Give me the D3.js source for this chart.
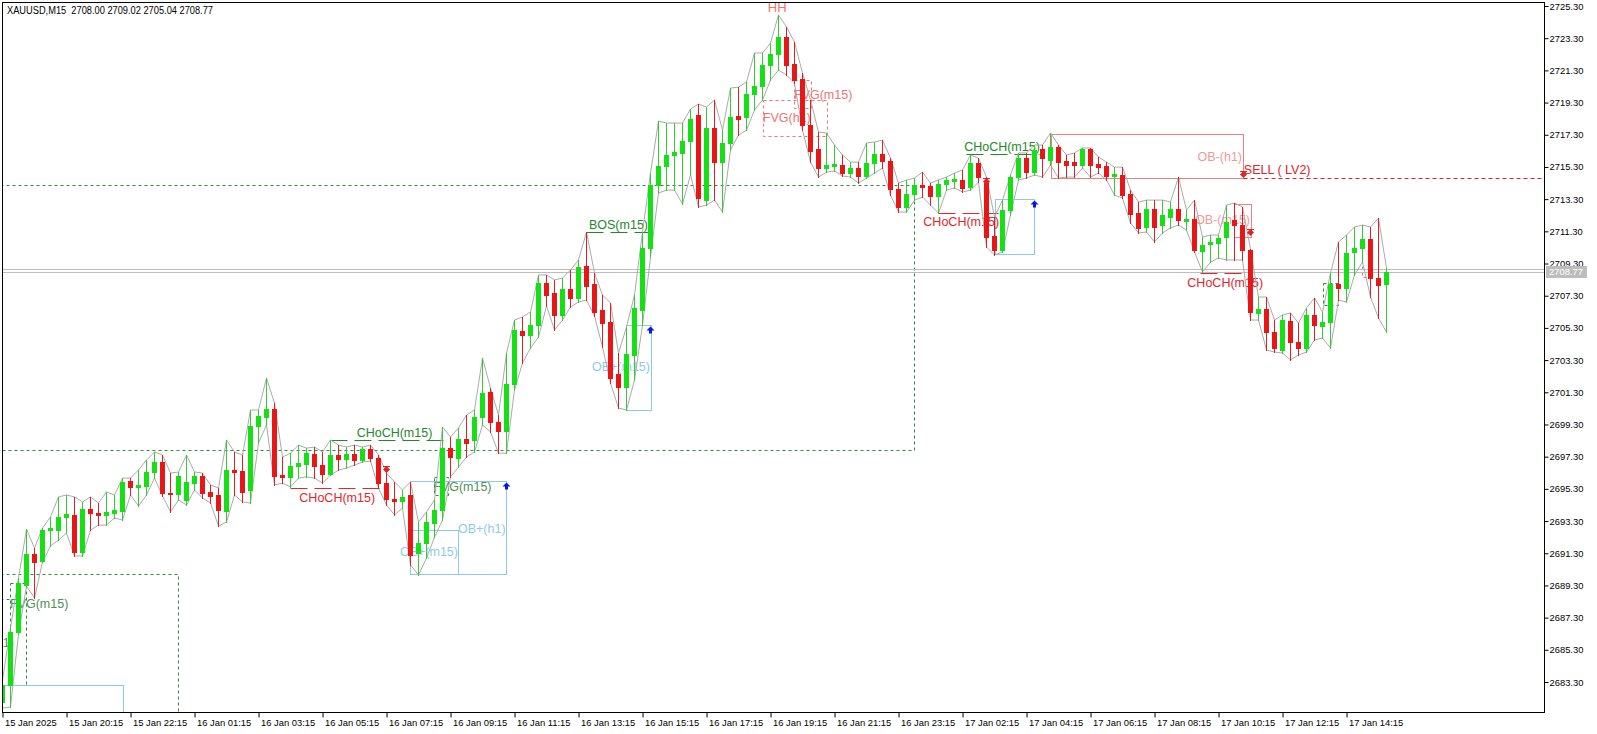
<!DOCTYPE html>
<html><head><meta charset="utf-8">
<script src="https://cdn.jsdelivr.net/npm/d3@7"></script>
<style>
body{margin:0;background:#fff;overflow:hidden;}
svg{display:block;}
text{font-family:"Liberation Sans",Arial,sans-serif;}
</style>
</head><body>
<svg id="c" width="1597" height="734"></svg>
<script>
// ---------- DATA ----------
const symbolHeader = "XAUUSD,M15  2708.00 2709.02 2705.04 2708.77";
const opens = [2682.06,2683.11,2686.41,2689.33,2691.25,2690.82,2692.74,2692.74,2693.56,2693.68,
2691.38,2694.05,2693.80,2693.68,2693.80,2693.93,2695.79,2695.42,2695.48,2696.35,
2696.97,2695.04,2694.98,2694.61,2695.66,2696.10,2695.11,2694.92,2693.93,2696.47,
2696.41,2695.23,2699.21,2699.77,2700.26,2696.16,2696.04,2696.72,2696.84,2697.46,
2696.78,2696.22,2697.40,2697.15,2697.46,2697.09,2697.77,2697.21,2695.66,2694.67,
2694.55,2694.92,2691.31,2691.93,2693.18,2693.99,2697.83,2697.21,2698.40,2698.34,
2699.77,2701.32,2699.45,2698.89,2701.81,2705.11,2704.86,2705.48,2708.09,2707.46,
2706.10,2707.72,2707.15,2709.14,2708.03,2706.41,2705.67,2702.44,2701.63,2703.62,
2706.41,2710.26,2714.18,2715.36,2716.04,2716.17,2716.91,2718.53,2713.24,2717.72,
2715.60,2716.79,2718.46,2718.40,2719.83,2720.33,2721.63,2722.32,2723.37,2721.69,
2720.76,2717.90,2716.41,2715.23,2715.36,2715.42,2714.92,2715.23,2714.74,2715.54,
2716.10,2715.67,2713.93,2712.81,2713.62,2714.18,2714.11,2713.49,2714.24,2714.42,
2714.49,2714.05,2715.54,2714.30,2711.01,2710.14,2712.62,2714.67,2715.85,2714.98,
2716.41,2715.73,2716.54,2715.67,2715.60,2715.42,2716.41,2715.48,2715.36,2714.74,
2714.80,2713.62,2712.44,2711.57,2712.69,2711.69,2712.19,2712.69,2711.94,2712.06,
2710.08,2710.51,2710.57,2710.95,2712.00,2711.69,2710.14,2706.23,2706.47,2705.05,
2703.93,2705.73,2704.42,2704.05,2706.10,2705.42,2705.67,2708.03,2707.78,2710.02,
2710.26,2710.82,2708.40,2708.00];
const highs = [2683.42,2686.65,2689.76,2692.80,2691.62,2692.86,2693.56,2694.80,2694.92,2694.80,
2694.49,2694.80,2694.42,2695.11,2694.92,2695.97,2695.97,2696.47,2697.09,2697.59,
2697.40,2696.28,2696.35,2697.40,2696.35,2696.28,2695.54,2695.35,2698.34,2697.59,
2697.40,2700.20,2700.20,2702.19,2700.63,2697.28,2697.52,2698.02,2697.83,2697.90,
2697.59,2698.34,2698.02,2697.90,2698.02,2697.90,2698.02,2697.40,2696.28,2695.73,
2695.23,2695.73,2693.24,2693.87,2694.61,2699.14,2698.52,2699.08,2699.89,2700.20,
2703.43,2701.56,2699.89,2703.74,2705.79,2705.98,2706.29,2708.59,2708.59,2708.28,
2708.40,2708.90,2709.52,2711.26,2708.71,2707.34,2706.85,2703.74,2705.36,2707.34,
2711.26,2714.92,2718.15,2718.03,2718.03,2718.03,2718.90,2719.21,2719.02,2719.46,
2717.59,2720.20,2720.26,2720.58,2722.38,2722.38,2723.00,2724.74,2724.00,2723.06,
2721.14,2719.46,2717.47,2717.41,2716.66,2716.04,2715.60,2715.60,2716.79,2716.85,
2716.97,2715.85,2714.30,2714.49,2714.61,2714.98,2714.30,2714.49,2714.67,2714.92,
2715.11,2716.04,2715.85,2714.67,2712.19,2713.24,2714.80,2716.17,2716.17,2716.66,
2716.66,2717.41,2716.66,2716.04,2716.17,2716.48,2716.48,2715.92,2715.60,2715.29,
2715.29,2713.86,2713.12,2713.24,2713.24,2713.24,2713.12,2714.67,2712.62,2713.24,
2710.95,2711.07,2711.07,2712.93,2713.06,2712.81,2710.20,2707.22,2707.22,2705.79,
2706.10,2706.23,2705.60,2706.54,2707.16,2706.29,2708.71,2710.64,2711.07,2711.57,
2711.69,2711.57,2712.12,2709.02];
const lows = [2681.68,2681.75,2686.28,2689.27,2688.51,2690.76,2691.75,2692.12,2692.55,2691.13,
2691.13,2692.74,2693.05,2693.05,2693.49,2693.36,2694.92,2694.24,2694.92,2695.97,
2694.86,2693.87,2694.61,2694.30,2695.23,2694.73,2694.42,2692.99,2693.24,2694.92,
2694.49,2694.42,2698.15,2699.27,2695.54,2695.66,2695.42,2695.97,2696.04,2695.97,
2695.66,2696.16,2696.47,2696.59,2696.78,2696.97,2697.03,2695.35,2694.30,2693.68,
2694.11,2690.57,2689.95,2691.00,2692.30,2693.36,2696.04,2696.66,2697.28,2697.59,
2699.27,2698.83,2697.52,2697.52,2701.44,2703.12,2704.05,2704.73,2706.66,2705.17,
2705.79,2706.60,2706.91,2707.03,2706.04,2704.11,2701.87,2700.32,2700.20,2702.06,
2705.48,2709.70,2713.68,2713.86,2713.86,2713.00,2714.80,2712.81,2712.93,2713.24,
2712.50,2716.35,2717.28,2717.59,2718.84,2719.46,2720.70,2721.32,2721.01,2720.51,
2717.59,2715.60,2714.67,2714.98,2715.05,2714.74,2714.67,2714.30,2714.61,2714.92,
2715.23,2713.55,2712.50,2712.50,2713.24,2713.43,2712.93,2712.43,2713.86,2713.99,
2713.74,2713.86,2714.36,2710.33,2709.83,2710.02,2712.31,2714.49,2714.61,2714.80,
2714.67,2715.42,2714.61,2714.67,2714.67,2715.23,2714.67,2714.92,2714.49,2713.55,
2713.37,2711.82,2711.20,2711.26,2710.64,2711.20,2711.51,2711.69,2711.38,2710.02,
2708.77,2709.39,2709.64,2709.52,2709.52,2709.52,2705.79,2705.79,2703.93,2703.80,
2703.74,2703.31,2703.62,2703.80,2704.55,2704.67,2704.05,2707.03,2706.91,2708.59,
2709.39,2707.22,2705.91,2705.04];
const closes = [2683.11,2686.41,2689.45,2691.25,2690.76,2692.74,2692.86,2693.56,2693.74,2691.38,
2694.05,2693.80,2693.68,2693.87,2693.99,2695.73,2695.42,2695.54,2696.35,2696.97,
2695.04,2694.98,2696.10,2695.73,2696.10,2695.04,2694.86,2693.99,2696.47,2696.35,
2695.11,2699.21,2699.83,2700.26,2696.10,2696.04,2696.72,2696.90,2697.52,2696.72,
2696.22,2697.40,2697.15,2697.46,2697.09,2697.77,2697.21,2695.66,2694.67,2694.55,
2694.80,2691.19,2691.93,2693.24,2693.99,2697.83,2697.28,2698.40,2698.15,2699.77,
2701.25,2699.45,2698.89,2701.81,2705.17,2704.86,2705.48,2708.09,2707.34,2706.10,
2707.72,2707.15,2709.08,2707.90,2706.29,2705.60,2702.19,2701.63,2703.68,2706.53,
2710.26,2714.18,2715.36,2716.04,2716.23,2716.91,2718.28,2713.37,2717.72,2715.60,
2716.79,2718.40,2718.28,2719.83,2720.33,2721.63,2722.32,2723.37,2721.63,2720.70,
2717.90,2716.29,2715.23,2715.42,2715.48,2714.92,2715.23,2714.74,2715.54,2716.10,
2715.67,2713.93,2712.81,2713.62,2714.18,2714.05,2713.49,2714.24,2714.49,2714.55,
2713.99,2715.54,2714.67,2710.95,2710.14,2712.62,2714.67,2715.85,2714.98,2716.35,
2715.85,2716.54,2715.60,2715.42,2715.42,2716.41,2715.42,2715.29,2714.74,2714.86,
2713.55,2712.38,2711.51,2712.69,2711.57,2712.31,2712.69,2712.00,2712.06,2710.14,
2710.45,2710.64,2710.88,2711.88,2711.69,2710.14,2706.29,2706.47,2705.05,2704.05,
2705.79,2704.42,2704.05,2706.10,2705.48,2705.67,2708.03,2707.78,2709.95,2710.26,
2710.82,2708.40,2707.97,2708.77];

const timeLabels = ["15 Jan 2025","15 Jan 20:15","15 Jan 22:15","16 Jan 01:15","16 Jan 03:15","16 Jan 05:15",
"16 Jan 07:15","16 Jan 09:15","16 Jan 11:15","16 Jan 13:15","16 Jan 15:15","16 Jan 17:15","16 Jan 19:15",
"16 Jan 21:15","16 Jan 23:15","17 Jan 02:15","17 Jan 04:15","17 Jan 06:15","17 Jan 08:15","17 Jan 10:15",
"17 Jan 12:15","17 Jan 14:15"];
const timeLabelBars = [0,8,16,24,32,40,48,56,64,72,80,88,96,104,112,120,128,136,144,152,160,168];
const priceTicks = [2683.30,2685.30,2687.30,2689.30,2691.30,2693.30,2695.30,2697.30,2699.30,2701.30,
2703.30,2705.30,2707.30,2709.30,2711.30,2713.30,2715.30,2717.30,2719.30,2721.30,2723.30,2725.30];
const bidPrice = 2708.77;
const askPrice = 2708.94;

// structure breaks: [label, fromBar, toBar, price, textBar, side, kind]
const structureBreaks = [
  ["CHoCH(m15)", 41, 55.1, 2698.34, 49.06, "above", "bull"],
  ["CHoCH(m15)", 36, 47.25, 2695.35, 41.9, "below", "bear"],
  ["BOS(m15)", 73, 80.9, 2711.26, 77.06, "above", "bull"],
  ["CHoCH(m15)", 117, 124.5, 2712.44, 119.9, "below", "bear"],
  ["CHoCH(m15)", 120.5, 129.6, 2716.10, 125, "above", "bull"],
  ["CHoCH(m15)", 149.75, 155.75, 2708.71, 152.9, "below", "bear"]
];
// zones: [fromBar, toBar, topPrice, bottomPrice, kind]
const zones = [
  [-1, 114, 2714.18, 2697.71, "fvgBull"],
  [-1, 22, 2690.01, 2679.0, "fvgBull"],
  [1, 3, 2689.45, 2683.11, "fvgBull"],
  [-1, 15.1, 2683.11, 2679.0, "obBull"],
  [54, 55.75, 2696.04, 2694.92, "fvgBull"],
  [51, 63, 2695.79, 2690.01, "obBull"],
  [51, 57, 2692.74, 2690.01, "obBull"],
  [78, 81.1, 2705.48, 2700.20, "obBull"],
  [95.1, 103.1, 2719.46, 2717.22, "fvgBear"],
  [99, 101.1, 2720.70, 2718.96, "fvgBear"],
  [124.1, 129, 2713.31, 2709.89, "obBull"],
  [131.1, 155.1, 2717.35, 2714.61, "obBear"],
  [154, 156.1, 2713.00, 2710.95, "obBear"],
  [165.1, 167, 2708.09, 2706.72, "fvgBull"],
  [170, 171, 2710.33, 2708.46, "fvgBear"]
];
// extra segment (edge of a zone)
const segments = [[-1, 1, 2688.46, "fvgBull"]];
// zone labels: [text, bar, price, anchor, kind]
const zoneLabels = [
  ["HH", 96.9, 2725.24, "middle", "fvgBear"],
  ["FVG(h1)", 95.1, 2718.34, "start", "fvgBear"],
  ["FVG(m15)", 99, 2719.77, "start", "fvgBear"],
  ["OB-(h1)", 155.0, 2715.92, "end", "obBearText"],
  ["OB-(m15)", 156.0, 2712.00, "end", "obBearText"],
  ["OB+(h1)", 57.0, 2692.81, "start", "obBull"],
  ["OB+(m15)", 57.0, 2691.38, "end", "obBull"],
  ["OB+(m15)", 81.0, 2702.87, "end", "obBull"],
  ["FVG(m15)", 53.9, 2695.42, "start", "fvgBullText"],
  ["FVG(m15)", 1.0, 2688.14, "start", "fvgBullText"],
  ["1)", 0.1, 2685.72, "start", "fvgBullText"]
];
// signal: [text, bar, price]
const sellSignal = ["SELL ( LV2)", 155.1, 2714.61];
// markers: [bar, price, type]
const markers = [
  [48, 2696.53, "down"], [123, 2714.43, "down"], [156, 2711.26, "down"], [155.1, 2714.86, "down"],
  [81.0, 2705.17, "up"], [63.0, 2695.48, "up"], [129.0, 2713.00, "up"]
];

// ---------- SCALES ----------
const W = 1597, H = 734;
const P = {l: 3, t: 3, r: 1544, b: 712};
const nBars = opens.length;
const x = d3.scaleLinear().domain([0, nBars - 1]).range([2, 2 + 8 * (nBars - 1)]);
const y = d3.scaleLinear().domain([2683.3, 2725.3]).range([682, 6]);
const px = v => Math.round(x(v)) + 0.5;
const py = v => Math.round(y(v)) + 0.5;

const colors = {
  bullBody: "#14e014", bullWick: "#34cc34",
  bearBody: "#e81616", bearWick: "#e02020",
  hl: "#ababab",
  bull: "#24882a", bear: "#e3262b",
  fvgBull: "#2f8a3a", fvgBullText: "#4f8f55",
  fvgBear: "#ee7474", obBear: "#ee8080", obBearText: "#f19a9a",
  obBull: "#8ccbe8", sell: "#e02424"
};

const svg = d3.select("#c");
svg.append("rect").attr("width", W).attr("height", H).attr("fill", "#fff");
svg.append("defs").append("clipPath").attr("id", "clip")
  .append("rect").attr("x", P.l).attr("y", P.t).attr("width", P.r - P.l).attr("height", P.b - P.t);
const g = svg.append("g").attr("clip-path", "url(#clip)");

// zones
g.selectAll("rect.zone").data(zones).enter().append("rect")
  .attr("class", "zone")
  .attr("x", d => px(d[0])).attr("y", d => py(d[2]))
  .attr("width", d => Math.round(x(d[1])) - Math.round(x(d[0])))
  .attr("height", d => Math.round(y(d[3])) - Math.round(y(d[2])))
  .attr("fill", "none")
  .attr("stroke", d => colors[d[4]])
  .attr("stroke-width", 1)
  .attr("stroke-dasharray", d => d[4].startsWith("fvg") ? "3,3" : null);
g.selectAll("line.seg").data(segments).enter().append("line")
  .attr("x1", d => px(d[0])).attr("x2", d => px(d[1]))
  .attr("y1", d => py(d[2])).attr("y2", d => py(d[2]))
  .attr("stroke", d => colors[d[3]]).attr("stroke-dasharray", "3,3");

// zone labels
g.selectAll("text.zl").data(zoneLabels).enter().append("text")
  .attr("x", d => x(d[1])).attr("y", d => y(d[2]))
  .attr("dy", "0.35em")
  .attr("text-anchor", d => d[3])
  .attr("font-size", d => d[0] === "HH" ? 13 : 12.5)
  .attr("fill", d => colors[d[4]])
  .text(d => d[0]);

// sell line + label
g.append("line")
  .attr("x1", px(sellSignal[1])).attr("x2", P.r)
  .attr("y1", py(sellSignal[2])).attr("y2", py(sellSignal[2]))
  .attr("stroke", colors.sell).attr("stroke-dasharray", "4,3");
g.append("text").attr("x", x(sellSignal[1]) + 1).attr("y", y(sellSignal[2]) - 8)
  .attr("dy", "0.35em").attr("font-size", 12.5).attr("fill", colors.sell).text(sellSignal[0]);

// structure lines
structureBreaks.forEach(d => {
  const col = d[6] === "bull" ? colors.bull : colors.bear;
  g.append("line")
    .attr("x1", px(d[1])).attr("x2", px(d[2]))
    .attr("y1", py(d[3])).attr("y2", py(d[3]))
    .attr("stroke", col).attr("stroke-dasharray", "17,7");
  g.append("text")
    .attr("x", x(d[4])).attr("y", d[5] === "above" ? y(d[3]) - 3 : y(d[3]) + 13.5)
    .attr("text-anchor", "middle").attr("font-size", 12.5).attr("fill", col)
    .text(d[0]);
});

// bid / ask lines
[bidPrice, askPrice].forEach(p => {
  g.append("line").attr("x1", P.l).attr("x2", P.r)
    .attr("y1", py(p)).attr("y2", py(p))
    .attr("stroke", "#bdbdbd").attr("stroke-width", 1);
});

// high / low polylines
const idx = d3.range(nBars);
g.append("path").datum(idx)
  .attr("d", d3.line().x(i => x(i) + 0.5).y(i => y(highs[i])))
  .attr("fill", "none").attr("stroke", colors.hl).attr("stroke-width", 1);
g.append("path").datum(idx)
  .attr("d", d3.line().x(i => x(i) + 0.5).y(i => y(lows[i])))
  .attr("fill", "none").attr("stroke", colors.hl).attr("stroke-width", 1);

// candles
const cg = g.append("g");
idx.forEach(i => {
  const o = opens[i], c = closes[i];
  const h = Math.max(highs[i], o, c), l = Math.min(lows[i], o, c);
  const bull = c >= o;
  const cx = Math.round(x(i));
  cg.append("line")
    .attr("x1", cx + 0.5).attr("x2", cx + 0.5)
    .attr("y1", Math.round(y(h))).attr("y2", Math.round(y(l)) + 1)
    .attr("stroke", bull ? colors.bullWick : colors.bearWick).attr("stroke-width", 1);
  const yt = Math.round(y(Math.max(o, c))), yb = Math.round(y(Math.min(o, c)));
  cg.append("rect")
    .attr("x", cx - 2).attr("y", yt)
    .attr("width", 5).attr("height", Math.max(2, yb - yt + 1))
    .attr("fill", bull ? colors.bullBody : colors.bearBody);
});

// markers
markers.forEach(m => {
  const mx = Math.round(x(m[0])) + 0.5, my = Math.round(y(m[1])) + 0.5;
  if (m[2] === "down") {
    g.append("path")
      .attr("d", `M${mx},${my - 3.5} L${mx + 3.5},${my} L${mx},${my + 3.5} L${mx - 3.5},${my} Z`)
      .attr("fill", colors.sell);
    g.append("line").attr("x1", mx - 3.5).attr("x2", mx + 3.5).attr("y1", my - 3).attr("y2", my - 3)
      .attr("stroke", colors.sell);
  } else {
    g.append("path")
      .attr("d", `M${mx},${my - 4} L${mx + 4},${my} L${mx + 1.5},${my} L${mx + 1.5},${my + 3} L${mx - 1.5},${my + 3} L${mx - 1.5},${my} L${mx - 4},${my} Z`)
      .attr("fill", "#0a14e6");
  }
});

// frame
svg.append("rect").attr("x", 2.5).attr("y", 2.5)
  .attr("width", P.r - 2).attr("height", P.b - 2)
  .attr("fill", "none").attr("stroke", "#000").attr("stroke-width", 1);

// price axis
const yAxis = d3.axisRight(y).tickValues(priceTicks).tickFormat(d3.format(".2f")).tickSize(4).tickPadding(1);
const ya = svg.append("g").attr("transform", `translate(${P.r + 0.5},0)`).call(yAxis);
ya.select(".domain").remove();
ya.selectAll("text").attr("font-size", 9.4).attr("fill", "#000").attr("font-family", "Liberation Sans, Arial, sans-serif");
ya.selectAll("line").attr("stroke", "#000");

// bid label
const bl = svg.append("g").attr("transform", `translate(${P.r + 2},${Math.round(y(bidPrice))})`);
bl.append("rect").attr("x", 0).attr("y", -6).attr("width", 41).attr("height", 12).attr("fill", "#bdbdbd");
bl.append("text").attr("x", 3).attr("y", 0).attr("dy", "0.35em").attr("font-size", 9.4)
  .attr("fill", "#fff").text(d3.format(".2f")(bidPrice));

// time axis
const xAxis = d3.axisBottom(x).tickValues(timeLabelBars).tickFormat((d, i) => timeLabels[i]).tickSize(5).tickPadding(2);
const xa = svg.append("g").attr("transform", `translate(0.5,${P.b + 0.5})`).call(xAxis);
xa.select(".domain").remove();
xa.selectAll("line").attr("stroke", "#000");
xa.selectAll("text").attr("text-anchor", "start").attr("dx", 2).attr("font-size", 9.4)
  .attr("fill", "#000").attr("font-family", "Liberation Sans, Arial, sans-serif");

// header
svg.append("text").attr("x", 7).attr("y", 14).attr("font-size", 10).attr("fill", "#000")
  .attr("textLength", 206).attr("lengthAdjust", "spacingAndGlyphs")
  .attr("xml:space", "preserve").style("white-space", "pre").text(symbolHeader);
</script>
</body></html>
